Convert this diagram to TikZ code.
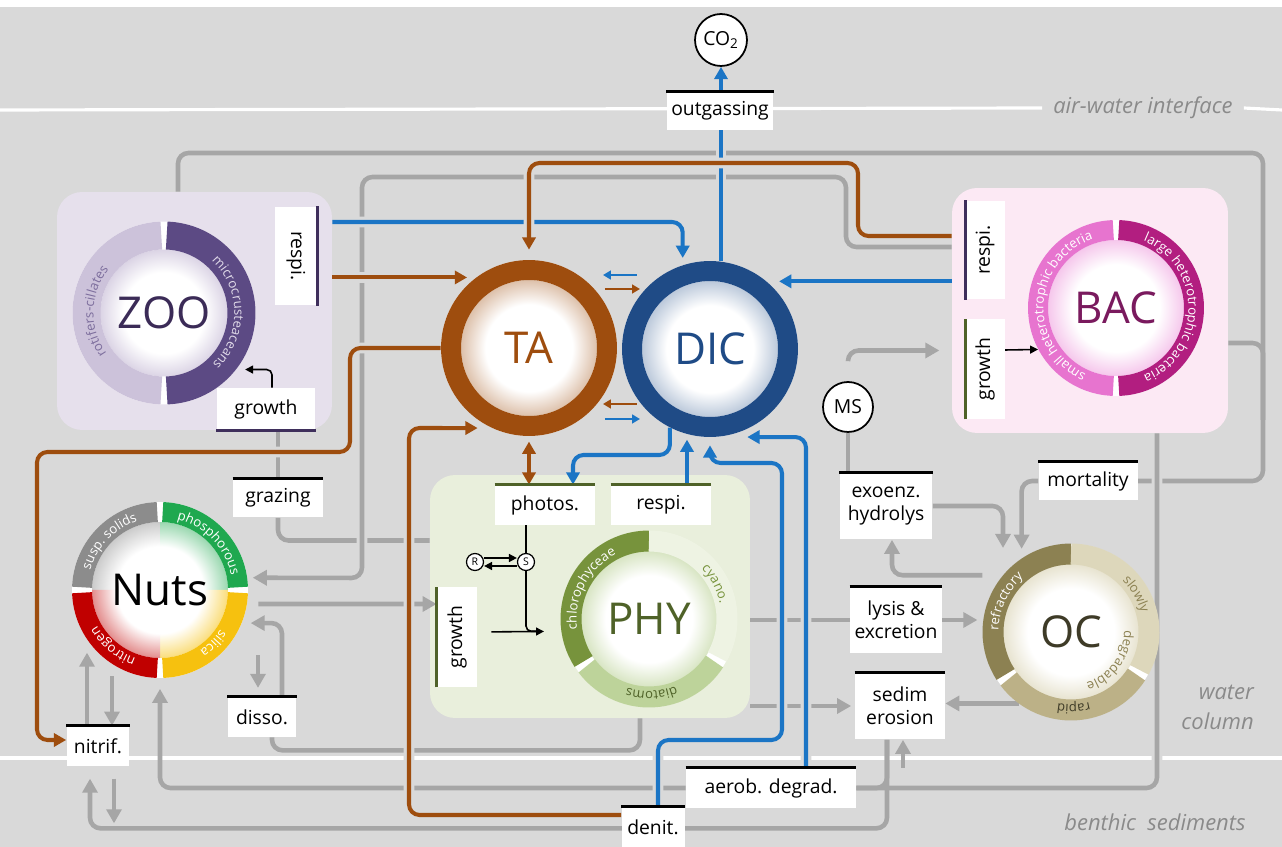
\documentclass[tikz,border=0pt]{standalone}
\usepackage{fontspec}
\setmainfont{Open Sans}
\usepackage{xcolor}
\usepackage{tikz}
\usetikzlibrary{positioning,arrows.meta,calc,decorations.text}

\definecolor{bgc}{HTML}{D9D9D9}
\definecolor{flowgrey}{HTML}{A6A6A6}
\definecolor{flowblue}{HTML}{1B75C5}
\definecolor{flowbrown}{HTML}{9E4D0E}
\definecolor{dicblue}{HTML}{1F4B86}
\definecolor{regiongrey}{HTML}{8A8A8A}
\definecolor{zoopanelc}{HTML}{E6E0EC}
\definecolor{zoolight}{HTML}{CCC2DA}
\definecolor{zoodark}{HTML}{5C4A84}
\definecolor{zootext}{HTML}{3B2B57}
\definecolor{zoobar}{HTML}{3F2F5C}
\definecolor{bacpanelc}{HTML}{FCE9F4}
\definecolor{baclight}{HTML}{E774CF}
\definecolor{bacdark}{HTML}{B21E80}
\definecolor{bactext}{HTML}{7A1A5E}
\definecolor{phypanelc}{HTML}{E9EFDC}
\definecolor{phydark}{HTML}{77933C}
\definecolor{phylight}{HTML}{BDD39A}
\definecolor{phyfaint}{HTML}{EEF3E3}
\definecolor{phytext}{HTML}{4F6228}
\definecolor{phybar}{HTML}{4F6228}
\definecolor{ocdark}{HTML}{8C8152}
\definecolor{ocmid}{HTML}{BCB187}
\definecolor{oclight}{HTML}{DDD7BB}
\definecolor{octext}{HTML}{3E3B27}
\definecolor{nutsgrey}{HTML}{8C8C8C}
\definecolor{nutsgreen}{HTML}{1FA84F}
\definecolor{nutsyellow}{HTML}{F6C10F}
\definecolor{nutsred}{HTML}{C00000}

\newcommand{\lbl}{\fontsize{11}{13}\selectfont}
\newcommand{\bigfont}{\fontsize{25}{28}\selectfont}
\newcommand{\arcfont}{\fontsize{7.5}{8}\selectfont}
\newcommand{\regfont}{\fontsize{12.5}{17}\selectfont\itshape}
\newcommand{\tinyfont}{\fontsize{6}{7}\selectfont}

\colorlet{ringtint}{white}
\pgfdeclareradialshading[ringtint]{ringglow}{\pgfpointorigin}{color(0bp)=(white); color(16bp)=(white); color(25bp)=(ringtint); color(50bp)=(ringtint)}

\pgfdeclarelayer{back}
\pgfdeclarelayer{flows}
\pgfdeclarelayer{rings}
\pgfsetlayers{back,flows,rings,main}

\newcommand{\ringdisc}[4]{%
  \fill[white] (#1.center) circle[radius=#4];
  \colorlet{ringtint}{#2}
  \shade[shading=ringglow] (#1.center) circle[radius=#3];}
\newcommand{\ringarc}[6]{%
  \draw[line width=#6, draw=#4] ($(#1.center)+(#2:#5)$) arc[start angle=#2, end angle=#3, radius=#5];}
\newcommand{\ringlabel}[6]{%
  \path[decorate, decoration={text along path, text align=center, text={|#5|#6}}] ($(#1.center)+(#2:#4)$) arc[start angle=#2, end angle=#3, radius=#4];}

\begin{document}
\begin{tikzpicture}[x=0.02cm, y=-0.02cm,
  every node/.style={font=\lbl},
  box/.style={rectangle, fill=white, inner sep=1pt, align=center, text=black},
  topbar/.style={append after command={(\tikzlastnode.north west) edge[draw=#1, line width=1.8pt] (\tikzlastnode.north east)}},
  botbar/.style={append after command={(\tikzlastnode.south west) edge[draw=#1, line width=1.8pt] (\tikzlastnode.south east)}},
  panel/.style={rectangle, rounded corners=0.5cm, inner sep=0pt},
  ring/.style={circle, inner sep=0pt, minimum size=3.52cm, font=\bigfont},
  circ/.style={circle, draw, line width=1pt, fill=white, inner sep=0pt},
  regionlbl/.style={font=\regfont, text=regiongrey},
  iface/.style={draw=white, line width=1.8pt},
  halo/.style={preaction={draw=bgc, line width=6pt}},
  gflow/.style={draw=flowgrey, line width=2.6pt, rounded corners=6pt, >={Triangle[length=8pt,width=8.5pt]}},
  bflow/.style={draw=flowblue, line width=2.3pt, rounded corners=6pt, >={Triangle[length=7pt,width=7.5pt]}},
  rflow/.style={draw=flowbrown, line width=2.3pt, rounded corners=6pt, >={Triangle[length=7pt,width=7.5pt]}},
  tinyflow/.style={line width=1.3pt, >={Triangle[length=4.5pt,width=5pt]}},
  ctrl/.style={draw=black, line width=0.9pt, rounded corners=3pt, >={Triangle[length=4.5pt,width=4.5pt]}},
]
\useasboundingbox (0,0) rectangle (1282,847);

\begin{pgfonlayer}{back}
  \fill[white] (0,0) rectangle (1282,847);
  \fill[bgc] (0,7) rectangle (1282,847);
  \node[regionlbl] (airlbl) at (1143,108) {air-water interface};
  \node[regionlbl, align=right, anchor=east] (waterlbl) at (1260,707) {water\\column};
  \node[regionlbl] (benthlbl) at (1155,822) {benthic\ \ sediments};
  \draw[iface] (0,110) -- ([xshift=-0.1cm]airlbl.west);
  \draw[iface] ([xshift=0.1cm]airlbl.east) -- (1282,110);
  \draw[iface] (0,758) -- (1282,758);
  \node[panel, fill=zoopanelc, minimum width=5.5cm, minimum height=4.76cm] (zoopanel) at (194.5,311) {};
  \node[panel, fill=bacpanelc, minimum width=5.52cm, minimum height=4.9cm] (bacpanel) at (1090,310.5) {};
  \node[panel, fill=phypanelc, minimum width=6.4cm, minimum height=4.86cm] (phypanel) at (590,596.5) {};
\end{pgfonlayer}

\node[ring, text=zootext, minimum size=3.66cm] (zoo) at (164,313) {ZOO};
\node[ring, text=flowbrown] (ta) at (529,348) {TA};
\node[ring, text=dicblue] (dic) at (710,349) {DIC};
\node[ring, text=bactext] (bac) at (1116,308) {BAC};
\node[ring, text=black] (nuts) at (160,590) {Nuts};
\node[ring, text=phytext] (phy) at (649,619) {PHY};
\node[ring, text=octext] (oc) at (1071,632) {OC};

\node[box, minimum width=2.14cm, minimum height=0.76cm, topbar=black] (outgas) at (720,111) {outgassing};
\node[box, rotate=-90, minimum width=1.98cm, minimum height=0.84cm, topbar=zoobar] (zoorespi) at (296,256) {respi.};
\node[box, minimum width=1.98cm, minimum height=0.84cm, botbar=zoobar] (zoogrowth) at (266,409) {growth};
\node[box, minimum width=1.8cm, minimum height=0.78cm, topbar=black] (grazing) at (278,498) {grazing};
\node[box, minimum width=1.26cm, minimum height=0.8cm, topbar=black] (nitrif) at (98,746) {nitrif.};
\node[box, minimum width=1.38cm, minimum height=0.8cm, topbar=black] (disso) at (262,717) {disso.};
\node[box, minimum width=2cm, minimum height=0.8cm, topbar=phybar] (photos) at (545,505) {photos.};
\node[box, minimum width=2cm, minimum height=0.8cm, topbar=phybar] (phyrespi) at (661,505) {respi.};
\node[box, rotate=90, minimum width=2cm, minimum height=0.8cm, topbar=phybar] (phygrowth) at (457,637) {growth};
\node[box, rotate=90, minimum width=1.98cm, minimum height=0.78cm, topbar=zoobar] (bacrespi) at (985,250) {respi.};
\node[box, rotate=90, minimum width=2cm, minimum height=0.78cm, topbar=phybar] (bacgrowth) at (985,369) {growth};
\node[box, minimum width=1.98cm, minimum height=0.78cm, topbar=black] (mortality) at (1088,481) {mortality};
\node[box, minimum width=1.86cm, minimum height=1.34cm, topbar=black] (exoenz) at (886,506) {exoenz.\\hydrolys};
\node[box, minimum width=1.84cm, minimum height=1.32cm, topbar=black] (lysis) at (896,620) {lysis \&\\excretion};
\node[box, minimum width=1.8cm, minimum height=1.34cm, topbar=black] (sedim) at (900,706) {sedim\\erosion};
\node[box, minimum width=3.4cm, minimum height=0.8cm, topbar=black] (aerob) at (771,788) {aerob. degrad.};
\node[box, minimum width=1.26cm, minimum height=0.8cm, topbar=black] (denit) at (653,827) {denit.};
\node[circ, minimum size=1.04cm] (co2) at (721,40) {CO\textsubscript{2}};
\node[circ, minimum size=1.0cm] (ms) at (848,407) {MS};
\node[circ, line width=0.7pt, minimum size=0.34cm, font=\tinyfont] (R) at (475,562) {R};
\node[circ, line width=0.7pt, minimum size=0.34cm, font=\tinyfont] (S) at (526,562) {S};

\begin{pgfonlayer}{rings}
  \ringdisc{zoo}{zoolight!70}{1.27cm}{1.83cm}
  \ringarc{zoo}{92}{268}{zoolight}{1.55cm}{0.56cm}
  \ringarc{zoo}{88}{-88}{zoodark}{1.55cm}{0.56cm}
  \ringlabel{zoo}{235}{122}{1.41cm}{\arcfont\color{zoodark!80!white}}{rotifers-cillates}
  \ringlabel{zoo}{62}{-61}{1.41cm}{\arcfont\color{zoolight!60!white}}{microcrusteaceans}
  \ringdisc{ta}{flowbrown!35}{1.36cm}{1.76cm}
  \draw[line width=0.4cm, draw=flowbrown] (ta.center) circle[radius=1.56cm];
  \ringdisc{dic}{dicblue!30}{1.36cm}{1.76cm}
  \draw[line width=0.4cm, draw=dicblue] (dic.center) circle[radius=1.56cm];
  \ringdisc{bac}{baclight!40}{1.36cm}{1.76cm}
  \ringarc{bac}{92}{268}{baclight}{1.56cm}{0.4cm}
  \ringarc{bac}{88}{-88}{bacdark}{1.56cm}{0.4cm}
  \ringlabel{bac}{254}{100}{1.45cm}{\arcfont\color{white}}{small heterotrophic bacteria}
  \ringlabel{bac}{79}{-79}{1.45cm}{\arcfont\color{white}}{large heterotrophic bacteria}
  \fill[white] (nuts.center) circle[radius=1.76cm];
  \begin{scope}
    \clip (nuts.center) -- ++(90:1.4cm) arc[start angle=90, end angle=180, radius=1.4cm] -- cycle;
    \colorlet{ringtint}{nutsgrey!45}
    \shade[shading=ringglow] (nuts.center) circle[radius=1.36cm];
  \end{scope}
  \begin{scope}
    \clip (nuts.center) -- ++(0:1.4cm) arc[start angle=0, end angle=90, radius=1.4cm] -- cycle;
    \colorlet{ringtint}{nutsgreen!45}
    \shade[shading=ringglow] (nuts.center) circle[radius=1.36cm];
  \end{scope}
  \begin{scope}
    \clip (nuts.center) -- ++(270:1.4cm) arc[start angle=270, end angle=360, radius=1.4cm] -- cycle;
    \colorlet{ringtint}{nutsyellow!55}
    \shade[shading=ringglow] (nuts.center) circle[radius=1.36cm];
  \end{scope}
  \begin{scope}
    \clip (nuts.center) -- ++(180:1.4cm) arc[start angle=180, end angle=270, radius=1.4cm] -- cycle;
    \colorlet{ringtint}{nutsred!45}
    \shade[shading=ringglow] (nuts.center) circle[radius=1.36cm];
  \end{scope}
  \ringarc{nuts}{92}{178}{nutsgrey}{1.56cm}{0.4cm}
  \ringarc{nuts}{88}{2}{nutsgreen}{1.56cm}{0.4cm}
  \ringarc{nuts}{-2}{-88}{nutsyellow}{1.56cm}{0.4cm}
  \ringarc{nuts}{268}{182}{nutsred}{1.56cm}{0.4cm}
  \ringlabel{nuts}{176}{96}{1.45cm}{\arcfont\color{white}}{susp. solids}
  \ringlabel{nuts}{86}{2}{1.45cm}{\arcfont\color{white}}{phosphorous}
  \ringlabel{nuts}{-5}{-85}{1.45cm}{\arcfont\color{white}}{silica}
  \ringlabel{nuts}{266}{194}{1.45cm}{\arcfont\color{white}}{nitrogen}
  \ringdisc{phy}{phylight!60}{1.36cm}{1.76cm}
  \ringarc{phy}{90}{213}{phydark}{1.56cm}{0.42cm}
  \ringarc{phy}{217}{327}{phylight}{1.56cm}{0.42cm}
  \ringarc{phy}{-29}{90}{phyfaint}{1.56cm}{0.42cm}
  \ringlabel{phy}{208}{97}{1.45cm}{\arcfont\color{white}}{chlorophyceae}
  \ringlabel{phy}{60}{-4}{1.45cm}{\arcfont\color{phydark}}{cyano.}
  \ringlabel{phy}{-50}{-126}{1.45cm}{\arcfont\color{phytext}}{diatoms}
  \ringdisc{oc}{oclight!70}{1.36cm}{1.76cm}
  \ringarc{oc}{90}{213}{ocdark}{1.56cm}{0.42cm}
  \ringarc{oc}{217}{327}{ocmid}{1.56cm}{0.42cm}
  \ringarc{oc}{-29}{90}{oclight}{1.56cm}{0.42cm}
  \ringlabel{oc}{205}{105}{1.45cm}{\arcfont\color{white}}{refractory}
  \ringlabel{oc}{55}{5}{1.45cm}{\arcfont\color{ocdark}}{slowly}
  \ringlabel{oc}{5}{-77}{1.06cm}{\arcfont\color{ocdark}}{degradable}
  \ringlabel{oc}{-60}{-116}{1.45cm}{\arcfont\color{octext}}{rapid}
\end{pgfonlayer}

\begin{pgfonlayer}{flows}
  \draw[gflow] (grazing.north |- zoogrowth.south) -- (grazing.north);
  \draw[gflow] (grazing.south) |- ([yshift=1.12cm]phypanel.west);
  \draw[gflow] ([xshift=-0.33cm]zoopanel.north) |- (1263,153) |- (mortality.east);
  \draw[gflow] ([yshift=-0.65cm]bacpanel.east) -| (1263,420);
  \draw[gflow, halo, ->, shorten >=3pt] ([yshift=1.27cm]bacpanel.west) -| (846,177) -| (362,578) -- (nuts.8);
  \draw[gflow, halo] ([xshift=1.34cm]bacpanel.south) |- (aerob.east);
  \draw[gflow, ->] ([xshift=0.2cm,yshift=-0.28cm]nuts.east) -- ([yshift=0.66cm]phygrowth.north);
  \draw[gflow, <-, shorten <=5pt] ([xshift=-0.08cm]disso.north) -- ++(0,0.84cm);
  \draw[gflow, ->, shorten >=5pt] ([xshift=0.4cm]disso.north) |- (nuts.-22);
  \draw[gflow] ([xshift=1cm]phypanel.south) |- ([xshift=0.2cm,yshift=-0.26cm]disso.south) -- ([xshift=0.2cm]disso.south);
  \draw[gflow, ->] ([xshift=-0.22cm]nitrif.north) -- ++(0,1.46cm);
  \draw[gflow, <-] ([xshift=0.28cm]nitrif.north) -- ++(0,1.0cm);
  \draw[gflow, ->, shorten >=7pt] ([xshift=-0.26cm]sedim.south) |- ([xshift=-0.16cm,yshift=-1.24cm]nitrif.south) -- ([xshift=-0.16cm]nitrif.south);
  \draw[gflow, ->, shorten <=7pt] ([xshift=0.32cm]nitrif.south) -- ++(0,-1.14cm);
  \draw[gflow] (aerob.east) -| ([xshift=-0.26cm]sedim.south);
  \draw[gflow, <-] ([xshift=0.06cm]sedim.south) -- ++(0,-0.56cm);
  \draw[gflow, ->, shorten >=6pt] (aerob.west) -| (nuts.south);
  \draw[gflow, ->] (mortality.west) -| ([yshift=0.2cm]oc.124);
  \draw[gflow, ->] (exoenz.east) -| (1003,548);
  \draw[gflow, ->, shorten <=12pt] (oc.140) -| ([xshift=0.12cm]exoenz.south);
  \draw[gflow] (phypanel.east |- lysis.west) -- (lysis.west);
  \draw[gflow, ->, shorten >=3pt] (lysis.east) -- (oc.west |- lysis.east);
  \draw[gflow, ->, shorten >=2pt] (phypanel.east |- sedim.west) -- (sedim.west);
  \draw[gflow, ->] (oc.234) -- (sedim.east |- oc.234);
  \draw[gflow] (ms.south |- exoenz.north) -- (ms.south);
  \draw[gflow, ->, shorten >=7pt] ([yshift=0.4cm]ms.north) |- ([yshift=-0.8cm]bacpanel.west);

  \draw[bflow, halo, ->] (co2.south |- dic.north) -- (co2.south);
  \draw[bflow, halo, ->, shorten >=4pt] ([yshift=1.78cm]zoopanel.east) -| (dic.108);
  \draw[bflow, ->, shorten >=7pt] (bacpanel.west |- dic.50) -- (dic.50);
  \draw[bflow, ->] (dic.243) |- (573,455) -- ([xshift=0.56cm]photos.north);
  \draw[bflow, ->] ([xshift=0.52cm]phyrespi.north) -- ++(0,0.9cm);
  \draw[bflow, halo, ->] ([xshift=0.1cm]denit.north) |- (782,740) |- (710,463) -- ([yshift=-0.16cm]dic.south);
  \draw[bflow, halo, ->] ([xshift=0.7cm]aerob.north) |- ([yshift=-0.16cm]dic.-65);
  \draw[tinyflow, draw=flowblue, ->] ([xshift=2.16cm,yshift=1.46cm]ta.center) -- ([xshift=1.48cm,yshift=1.46cm]ta.center);
  \draw[tinyflow, draw=flowbrown, ->] ([xshift=1.52cm,yshift=1.18cm]ta.center) -- ([xshift=2.22cm,yshift=1.18cm]ta.center);
  \draw[tinyflow, draw=flowbrown, ->] ([xshift=2.16cm,yshift=-1.12cm]ta.center) -- ([xshift=1.48cm,yshift=-1.12cm]ta.center);
  \draw[tinyflow, draw=flowblue, ->] ([xshift=1.52cm,yshift=-1.42cm]ta.center) -- ([xshift=2.22cm,yshift=-1.42cm]ta.center);

  \draw[rflow, halo, ->, shorten >=5pt] (zoopanel.east |- ta.127) -- (ta.127);
  \draw[rflow, halo, ->] ([yshift=1.49cm]bacpanel.west) -| (858,163) -| ([yshift=0.2cm]ta.north);
  \draw[rflow, halo, ->] (ta.west) -| (350,452) -| (37,740) -- ([yshift=0.12cm]nitrif.west);
  \draw[rflow, halo, ->, shorten >=8pt] ([yshift=0.24cm]denit.west) -| (409,428) -- (ta.245);
  \draw[rflow, <->, shorten <=3pt] (ta.south) -- (ta.south |- photos.north);

  \draw[ctrl, ->, shorten >=5pt] ([xshift=0.12cm]zoogrowth.north) |- (zoo.-38);
  \draw[ctrl, ->] ([yshift=0.38cm]bacgrowth.south) -- (bac.208);
  \draw[ctrl] (S.north |- photos.south) -- (S.north);
  \draw[ctrl, ->] ([yshift=0.08cm]R.east) -- ([yshift=0.08cm]S.west);
  \draw[ctrl, <-] ([yshift=-0.08cm]R.east) -- ([yshift=-0.08cm]S.west);
  \draw[ctrl, ->, shorten <=8pt, shorten >=10pt] ([yshift=0.1cm]phygrowth.south) -- (phy.188);
  \draw[ctrl] (S.south) |- ([xshift=-0.44cm]phy.188);
\end{pgfonlayer}
\end{tikzpicture}
\end{document}
